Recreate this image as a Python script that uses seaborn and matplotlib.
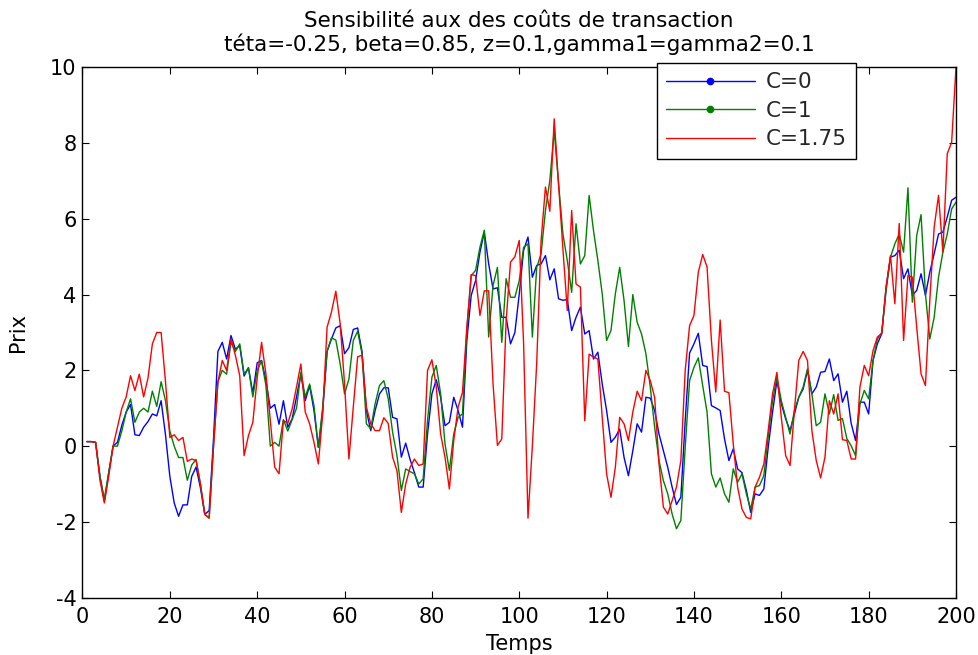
import numpy as np
import pandas as pd
import matplotlib
matplotlib.use("Agg")
import matplotlib.pyplot as plt
from matplotlib.lines import Line2D
import seaborn as sns

temps = list(range(1, 201))

prix_c0 = [
    0.12, 0.12, 0.10, -0.80, -1.45, -0.70, 0.00, 0.10, 0.55, 0.90,
    1.10, 0.30, 0.28, 0.50, 0.65, 0.85, 0.80, 1.20, 0.30, -0.80,
    -1.50, -1.85, -1.55, -1.55, -0.80, -0.55, -1.10, -1.80, -1.70, 0.20,
    2.50, 2.74, 2.30, 2.92, 2.56, 2.65, 1.85, 2.07, 1.40, 2.20,
    2.26, 1.73, 1.00, 1.10, 0.58, 1.20, 0.50, 0.72, 1.30, 1.90,
    1.20, 1.60, 0.94, -0.03, 0.94, 2.50, 2.83, 3.12, 3.18, 2.44,
    2.60, 3.08, 3.12, 2.50, 0.94, 0.41, 0.94, 1.38, 1.54, 1.54,
    0.76, 0.72, -0.29, 0.08, -0.35, -0.70, -1.08, -1.08, 0.32, 1.38,
    1.75, 1.29, 0.54, 0.63, 1.29, 0.94, 0.50, 2.79, 3.98, 4.37,
    5.12, 5.65, 4.81, 4.15, 4.18, 3.40, 3.40, 2.70, 3.00, 4.02,
    5.17, 5.52, 4.46, 4.77, 4.81, 5.03, 4.39, 4.68, 3.89, 3.85,
    3.87, 3.05, 3.40, 3.67, 2.96, 3.05, 2.30, 2.48, 1.64, 0.94,
    0.10, 0.24, 0.45, -0.30, -0.78, -0.12, 0.59, 0.37, 1.29, 1.27,
    0.94, 0.32, -0.12, -0.56, -1.08, -1.54, -1.35, 0.68, 2.46, 2.70,
    2.98, 2.13, 2.10, 1.07, 1.01, 0.94, 0.19, -0.38, -0.07, -0.60,
    -0.70, -1.17, -1.75, -1.26, -1.30, -1.13, -0.03, 0.90, 1.73, 1.12,
    0.72, 0.41, 0.85, 1.29, 1.51, 2.00, 1.38, 1.56, 1.95, 1.97,
    2.30, 1.73, 1.91, 1.16, 1.45, 0.60, 0.15, 1.16, 1.16, 0.85,
    2.26, 2.70, 2.97, 4.20, 4.99, 5.03, 5.17, 4.42, 4.68, 3.98,
    4.11, 4.55, 3.98, 4.59, 5.08, 5.60, 5.65, 6.05, 6.49, 6.57,
]

prix_c1 = [
    0.12, 0.12, 0.10, -0.80, -1.40, -0.70, 0.00, 0.00, 0.40, 0.90,
    1.25, 0.63, 0.90, 1.00, 0.90, 1.45, 1.05, 1.70, 1.20, 0.40,
    0.00, -0.30, -0.30, -0.90, -0.50, -0.35, -1.00, -1.80, -1.90, 0.00,
    1.70, 2.00, 1.90, 2.75, 2.50, 2.70, 1.90, 2.07, 1.30, 2.00,
    2.25, 1.60, 0.00, 0.10, 0.00, 0.70, 0.40, 0.70, 1.00, 1.95,
    1.30, 1.64, 1.07, -0.03, 1.03, 2.50, 2.86, 2.80, 2.17, 1.38,
    1.77, 2.79, 3.03, 2.44, 0.59, 0.46, 1.12, 1.60, 1.73, 1.25,
    0.37, -0.25, -1.17, -0.60, -0.67, -0.73, -1.00, -0.86, 0.68, 1.82,
    2.13, 1.38, 0.06, -0.64, 0.32, 0.76, 0.85, 3.05, 4.50, 4.64,
    5.25, 5.70, 2.88, 4.24, 4.72, 2.74, 4.42, 3.93, 3.93, 4.37,
    5.25, 5.34, 2.88, 4.72, 5.08, 6.22, 7.01, 8.33, 6.93, 5.60,
    4.90, 4.06, 5.87, 4.81, 5.03, 6.62, 5.69, 4.90, 4.02, 2.79,
    3.05, 4.02, 4.72, 3.84, 2.63, 4.00, 3.27, 2.96, 2.44, 1.56,
    0.50, -0.38, -0.91, -1.26, -1.79, -2.18, -1.96, -0.03, 1.73, 2.08,
    2.33, 1.60, 0.90, -0.73, -1.08, -0.84, -1.26, -1.48, -0.60, -0.95,
    -0.73, -1.26, -1.66, -1.08, -1.04, -0.78, 0.24, 1.20, 1.82, 1.20,
    0.76, 0.32, 0.94, 1.29, 1.56, 2.04, 1.38, 0.54, 0.63, 1.38,
    0.85, 1.36, 0.68, 0.73, 0.20, 0.01, -0.25, 1.11, 1.47, 1.25,
    2.26, 2.83, 3.00, 4.11, 4.99, 5.34, 5.60, 5.12, 6.82, 3.80,
    5.56, 6.11, 4.02, 2.83, 3.40, 4.46, 5.12, 5.60, 6.26, 6.44,
]

prix_c175 = [
    0.12, 0.12, 0.10, -0.90, -1.50, -0.80, 0.00, 0.50, 1.00, 1.30,
    1.86, 1.47, 1.90, 1.30, 1.80, 2.70, 3.00, 3.00, 1.70, 0.23,
    0.30, 0.15, 0.23, -0.40, -0.34, -0.38, -1.00, -1.80, -1.90, 0.00,
    1.69, 2.26, 2.00, 2.83, 2.40, 1.86, -0.25, 0.28, 0.63, 1.80,
    2.74, 1.90, 0.68, -0.55, -0.73, 0.68, 0.60, 0.98, 1.56, 2.17,
    0.90, 0.59, 0.10, -0.47, 0.85, 3.14, 3.54, 4.09, 3.23, 1.64,
    -0.34, 1.03, 2.36, 2.40, 1.03, 0.59, 0.41, 0.41, 0.75, 0.60,
    -0.29, -0.65, -1.75, -1.00, -0.56, -0.34, -0.51, -0.47, 2.00, 2.28,
    1.56, 0.32, -0.29, -1.13, 0.15, 1.03, 1.42, 3.14, 4.53, 4.50,
    3.45, 4.10, 4.10, 1.64, 0.02, 0.19, 3.32, 4.86, 5.00, 5.43,
    2.70, -1.90, 0.00, 2.20, 5.43, 6.84, 6.20, 8.64, 6.93, 5.20,
    3.58, 6.22, 4.28, 4.20, 0.67, 2.43, 2.35, 2.30, 0.76, -0.73,
    -1.35, -0.56, 0.76, 0.59, 0.15, 0.90, 1.45, 1.20, 2.00, 1.73,
    1.29, -0.47, -1.61, -1.79, -1.44, -1.08, -0.38, 2.00, 3.18, 3.45,
    4.59, 5.06, 4.73, 2.79, 1.43, 3.33, 1.45, 1.41, 0.06, -1.08,
    -1.66, -1.88, -1.92, -1.08, -0.82, -0.47, 0.41, 1.38, 1.95, 0.76,
    -0.25, -0.51, 0.94, 2.26, 2.50, 2.26, 0.41, -0.38, -0.84, -0.29,
    1.20, 0.85, 1.38, 0.17, 0.15, -0.34, -0.34, 1.56, 2.13, 1.86,
    2.52, 2.88, 2.97, 4.20, 5.03, 3.76, 5.88, 2.79, 4.50, 4.46,
    3.14, 1.91, 1.60, 3.84, 5.78, 6.62, 5.12, 7.72, 8.02, 10.00,
]

series_names = ["C=0", "C=1", "C=1.75"]
series_colors = {"C=0": "#0000ff", "C=1": "#008000", "C=1.75": "#ff0000"}

x_ticks = list(range(0, 201, 20))
y_ticks = list(range(-4, 11, 2))

df = pd.concat([
    pd.DataFrame({"Temps": temps, "Prix": vals, "serie": name})
    for name, vals in zip(series_names, [prix_c0, prix_c1, prix_c175])
], ignore_index=True)

sns.set_theme(style="white")
plt.rcParams["font.family"] = ["DejaVu Sans"]
plt.rcParams["axes.unicode_minus"] = False
plt.rcParams["xtick.direction"] = "in"
plt.rcParams["ytick.direction"] = "in"

W, H = 979, 655
fig = plt.figure(figsize=(W / 100, H / 100), dpi=100)
fig.patch.set_facecolor("white")
l, r, t, b = 82.5, 956.0, 67.3, 597.7
ax = fig.add_axes([l / W, 1 - b / H, (r - l) / W, (b - t) / H])

sns.lineplot(data=df, x="Temps", y="Prix", hue="serie", hue_order=series_names,
             palette=series_colors, linewidth=1.0, estimator=None, sort=False,
             legend=False, ax=ax)

ax.set_xlim(0, 200)
ax.set_ylim(-4, 10)
ax.set_xticks(x_ticks)
ax.set_yticks(y_ticks)
ax.tick_params(axis="both", which="both", direction="in", length=5, width=0.8,
               labelsize=15, colors="black", top=True, right=True,
               bottom=True, left=True)
ax.tick_params(axis="x", pad=6.5)
ax.tick_params(axis="y", pad=4.3)
for sp in ax.spines.values():
    sp.set_visible(True)
    sp.set_color("black")
    sp.set_linewidth(1.0)

ax.set_xlabel("Temps", fontsize=15, color="black")
ax.set_ylabel("Prix", fontsize=15, color="black")
ax.xaxis.set_label_coords(0.5, -(634 - b) / (b - t))
ax.yaxis.set_label_coords(-(l - 28) / (r - l), 0.5)
ax.set_title("Sensibilité aux des coûts de transaction\n"
             "téta=-0.25, beta=0.85, z=0.1,gamma1=gamma2=0.1",
             fontsize=15.5, color="black", pad=12, linespacing=1.1)

handles = [
    Line2D([], [], color=series_colors["C=0"], lw=1.0, marker=".", markersize=9),
    Line2D([], [], color=series_colors["C=1"], lw=1.0, marker=".", markersize=9),
    Line2D([], [], color=series_colors["C=1.75"], lw=1.0),
]
leg = ax.legend(handles, series_names, loc="upper right",
                bbox_to_anchor=((856 - l) / (r - l), (b - 62.5) / (b - t)),
                fontsize=15.5, frameon=True, fancybox=False, framealpha=1,
                edgecolor="black", handlelength=4.1, handletextpad=0.5,
                borderpad=0.45, labelspacing=0.4, numpoints=1,
                borderaxespad=0)
leg.get_frame().set_linewidth(1.0)

fig.savefig("out.png", dpi=100, facecolor="white")
